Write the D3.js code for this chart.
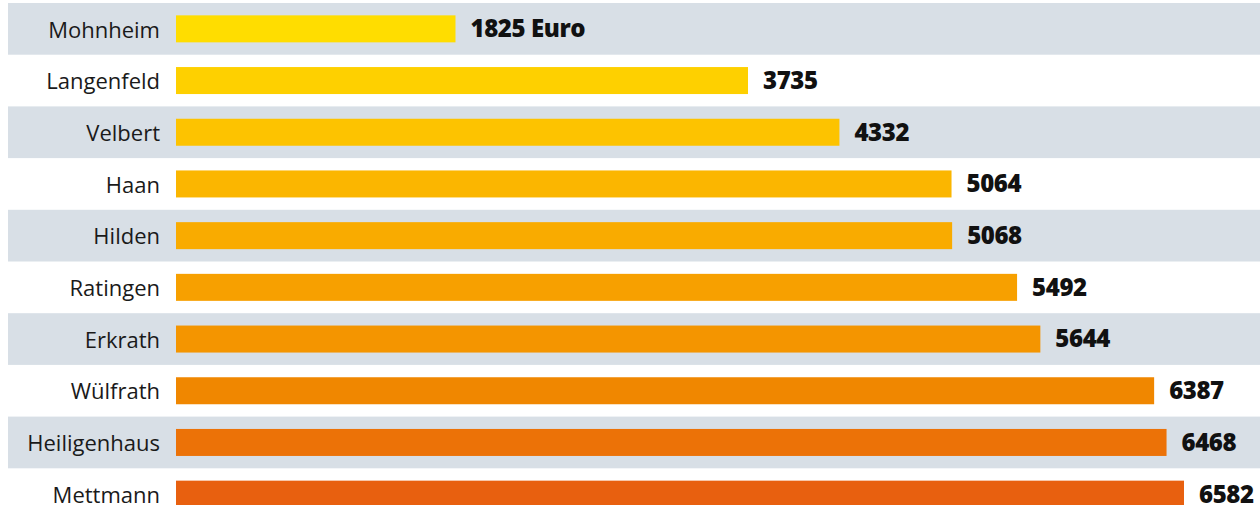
<!DOCTYPE html>
<html>
<head>
<meta charset="utf-8">
<script src="https://cdn.jsdelivr.net/npm/d3@7"></script>
<style>
  body { margin: 0; background: #fff; }
  svg { display: block; }
</style>
</head>
<body>
<svg class="chart"></svg>
<script>
// -------------------- Data --------------------
var cities = ["Mohnheim", "Langenfeld", "Velbert", "Haan", "Hilden",
              "Ratingen", "Erkrath", "Wülfrath", "Heiligenhaus", "Mettmann"];
var values = [1825, 3735, 4332, 5064, 5068, 5492, 5644, 6387, 6468, 6582];
var barColors = ["#FFDD00", "#FED000", "#FDC300", "#FBB600", "#F9AB00",
                 "#F7A000", "#F49500", "#F08700", "#EC7207", "#E8600F"];

// -------------------- Settings --------------------
var width = 1260, height = 505;
var rowStep = 51.7, barHeight = 27;

var chart = d3.select(".chart")
  .attr("width", width)
  .attr("height", height);

var data = cities.map(function(c, i) {
  return {name: c, value: values[i], color: barColors[i], i: i};
});

// -------------------- Scales --------------------
var y = d3.scaleBand()
  .domain(cities)
  .range([3, 3 + rowStep * cities.length])
  .padding(0);

var x = d3.scaleLinear()
  .domain([0, 6582])
  .range([176, 1184]);

// -------------------- Stripes --------------------
chart.selectAll("rect.stripe")
  .data(data.filter(function(d) { return d.i % 2 === 0; }))
  .enter()
  .append("rect")
    .attr("class", "stripe")
    .attr("x", 8)
    .attr("y", function(d) { return y(d.name); })
    .attr("width", width - 8)
    .attr("height", y.bandwidth())
    .attr("fill", "#D8DFE6");

// -------------------- Bars --------------------
chart.selectAll("rect.bar")
  .data(data)
  .enter()
  .append("rect")
    .attr("class", "bar")
    .attr("x", x(0))
    .attr("y", function(d) { return y(d.name) + (y.bandwidth() - barHeight) / 2; })
    .attr("width", function(d) { return x(d.value) - x(0); })
    .attr("height", barHeight)
    .attr("fill", function(d) { return d.color; });

// -------------------- Labels --------------------
chart.selectAll("text.name")
  .data(data)
  .enter()
  .append("text")
    .attr("class", "name")
    .attr("x", 160)
    .attr("y", function(d) { return y(d.name) + y.bandwidth() / 2 + 1; })
    .attr("dy", "0.35em")
    .attr("text-anchor", "end")
    .style("font-family", "'Open Sans', sans-serif")
    .style("font-size", "22px")
    .style("fill", "#1a1a1a")
    .text(function(d) { return d.name; });

chart.selectAll("text.value")
  .data(data)
  .enter()
  .append("text")
    .attr("class", "value")
    .attr("x", function(d) { return x(d.value) + 15; })
    .attr("y", function(d) { return y(d.name) + y.bandwidth() / 2; })
    .attr("dy", "0.35em")
    .style("font-family", "'Open Sans', sans-serif")
    .style("font-weight", 800)
    .style("font-size", "24px")
    .style("letter-spacing", "-0.4px")
    .style("fill", "#111")
    .text(function(d) { return d.i === 0 ? d.value + " Euro" : d.value; });
</script>
</body>
</html>
